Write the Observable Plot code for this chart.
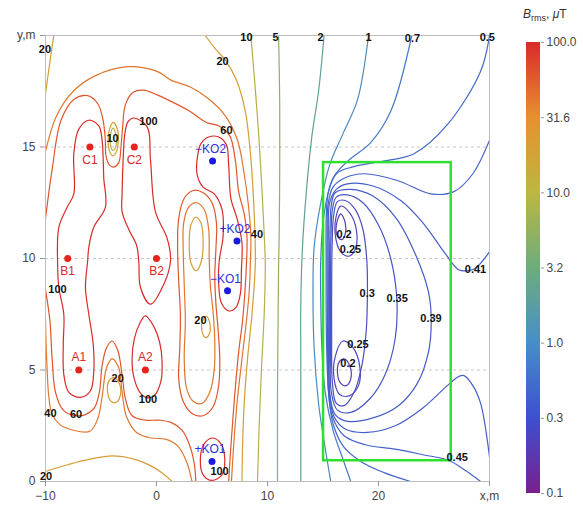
<!DOCTYPE html>
<html><head><meta charset="utf-8">
<script src="https://cdn.jsdelivr.net/npm/d3@7"></script>
<script src="https://cdn.jsdelivr.net/npm/@observablehq/plot@0.6"></script>
<style>
body{margin:0;background:#fff;font-family:"Liberation Sans",Arial,sans-serif}
#wrap{position:relative;width:583px;height:513px;overflow:hidden}
#wrap svg{position:absolute;top:0}
#ttl{position:absolute;left:523px;top:7px;font-size:12px;color:#333;white-space:nowrap}
#ttl sub{font-size:9px}
</style></head><body><div id="wrap"><div id="ttl"><i>B</i><sub>rms</sub>, <i>μ</i>T</div></div>
<script>
// conductors of the line and the compensating loops
const phaseNames = ["A1","A2","B1","B2","C1","C2"];
const phaseX = [-7,-1,-8,0,-6,-2];
const phaseY = [5,5,10,10,15,15];
const phaseLabelAbove = [true,true,false,false,false,false];
const loopNames = ["+KO1","\u2212KO1","+KO2","\u2212KO2"];
const loopX = [5.0,6.4,7.25,5.05];
const loopY = [0.9,8.55,10.78,14.37];
const zoneX = [15.05,26.55];
const zoneY = [0.93,14.3];

const xTicks = [-10,0,10,20,30];
const yTicks = [0,5,10,15,20];
const colorTicks = [0.1,0.316,1,3.162,10,31.62,100];
const rainbow = ["#79208e","#3d4fd1","#468fc8","#6cad7c","#bcb740","#e8902e","#d92a2a"];

// isolines of B_rms, µT (closed loops and open lines)
const iso100_left = [[-6.1,16.2],[-5.2,15.95],[-4.9,15.3],[-4.8,14.4],[-4.75,13.6],[-4.6,12.3],[-5.65,11.4],[-6.1,10.5],[-6.2,9.9],[-6.4,8.7],[-6.1,7.5],[-5.7,6.15],[-5.65,4.95],[-5.95,4.07],[-6.85,3.77],[-7.9,4.0],[-8.35,4.8],[-8.4,6.15],[-8.35,7.5],[-8.8,8.7],[-8.9,9.6],[-8.8,11.4],[-8.05,12.3],[-7.45,12.9],[-7.45,14.7],[-7.0,15.8]];
const iso100_c2 = [[-2.04,16.3],[-0.84,15.9],[-0.54,14.4],[-0.1,12.1],[0.96,10.9],[1.26,9.9],[0.66,8.85],[-0.54,7.95],[-1.44,8.7],[-1.6,9.9],[-1.8,10.6],[-2.5,11.3],[-3.1,12.1],[-3.1,12.9],[-3.0,14.5],[-2.85,15.6],[-2.55,16.15]];
const iso100_a2 = [[-1.0,7.43],[-0.3,7.0],[0.3,6.2],[0.5,5.4],[0.4,4.5],[-0.2,3.85],[-0.8,3.75],[-1.5,4.0],[-2.05,4.7],[-2.2,5.5],[-2.0,6.4],[-1.5,7.1]];
const iso100_ko = [[4.7,15.45],[5.6,15.45],[6.3,15.1],[6.5,14.2],[6.7,12.7],[7.25,11.8],[7.7,10.7],[7.65,9.5],[7.55,8.4],[7.15,7.8],[6.5,7.65],[5.85,8.0],[5.6,8.9],[5.65,9.9],[6.0,11.0],[5.9,12.2],[5.2,12.9],[4.2,13.2],[3.65,13.8],[3.7,14.6],[4.0,15.15]];
const iso100_ko1 = [[5.0,1.95],[5.8,1.7],[6.15,1.0],[5.9,0.3],[5.0,0.05],[4.2,0.3],[3.95,1.0],[4.25,1.65]];
const iso60_left = [[-10,8.6],[-9.6,7.2],[-9.4,5.5],[-9.1,4.0],[-8.4,3.2],[-7.3,2.95],[-6.4,3.0],[-5.6,3.3],[-5.15,4.0],[-4.9,5.2],[-4.5,6.0],[-4.0,6.3],[-3.5,5.9],[-3.1,4.8],[-2.8,3.7],[-2.2,2.95],[-1.0,2.75],[0.2,2.75],[1.3,2.65],[2.3,2.3],[3.0,1.6],[3.4,0.8],[3.55,0]];
const iso60_right = [[6.5,0],[6.65,1.2],[6.85,2.6],[7.1,4.2],[7.4,5.8],[7.75,7.2],[7.95,8.4],[8.1,9.7],[8.15,11.0],[7.9,12.0],[7.4,13.0],[7.1,14.4],[6.6,15.5],[5.6,15.95],[4.5,16.1],[3.0,16.6],[1.5,17.0],[0,17.35],[-1.2,17.55],[-2.1,17.45],[-2.8,16.9],[-3.05,15.9],[-3.2,15.0],[-3.4,14.3],[-3.85,14.1],[-4.25,14.2],[-4.55,14.6],[-4.62,15.4],[-4.85,16.3],[-5.3,16.95],[-6.2,17.3],[-7.4,17.15],[-8.6,16.2],[-9.4,14.0],[-10,11.8]];
const iso60_valley = [[3.3,13.05],[4.2,12.95],[5.0,12.5],[5.4,11.6],[5.35,10.4],[5.25,9.2],[5.35,8.0],[5.55,6.8],[5.7,5.5],[5.6,4.3],[5.1,3.35],[4.2,2.95],[3.2,3.05],[2.4,3.6],[2.0,4.6],[2.1,6.0],[2.15,7.5],[2.0,9.0],[1.9,10.5],[2.0,11.8],[2.5,12.7]];
const iso40_left = [[-10,7.35],[-9.95,6.2],[-9.85,5.0],[-9.7,3.8],[-9.4,3.0],[-8.7,2.55],[-7.5,2.3],[-6.0,2.25],[-5.3,2.8],[-4.9,3.8],[-4.5,5.1],[-4.0,5.5],[-3.4,5.1],[-3.1,4.0],[-2.7,2.9],[-1.8,2.2],[-0.5,1.95],[0.8,1.9],[1.9,1.6],[2.7,0.9],[3.2,0]];
const iso40_right = [[6.75,0],[6.95,1.6],[7.25,3.5],[7.7,5.5],[8.1,7.2],[8.35,8.5],[8.45,9.7],[8.5,11.0],[8.3,12.3],[7.9,13.8],[7.3,15.3],[6.2,16.4],[4.6,17.2],[3.0,17.7],[1.3,18.0],[0,18.4],[-2.6,18.6],[-5.5,18.2],[-7.5,17.5],[-9.0,16.4],[-10,14.8]];
const iso40_valley = [[3.6,12.5],[4.3,12.2],[4.7,11.3],[4.75,10.0],[4.85,8.8],[5.1,7.6],[5.25,6.3],[5.2,5.0],[4.8,4.0],[4.1,3.5],[3.3,3.6],[2.7,4.2],[2.5,5.5],[2.6,7.2],[2.5,8.8],[2.4,10.5],[2.45,11.6],[2.9,12.3]];
const iso20_valley = [[3.55,11.85],[4.0,11.6],[4.2,10.8],[4.05,9.9],[3.6,9.45],[3.1,9.8],[2.95,10.7],[3.1,11.5]];
const iso20_c = [[-3.9,16.1],[-3.5,15.75],[-3.45,15.2],[-3.65,14.75],[-3.95,14.6],[-4.25,14.85],[-4.35,15.4],[-4.2,15.85]];
const iso10_c = [[-3.92,15.85],[-3.65,15.55],[-3.65,15.05],[-3.92,14.85],[-4.15,15.1],[-4.12,15.6]];
const iso20_a = [[-3.85,4.66],[-3.35,4.4],[-3.25,3.9],[-3.6,3.55],[-4.1,3.6],[-4.4,4.0],[-4.3,4.5]];
const iso20_mid = [[4.5,7.4],[4.8,7.1],[4.75,6.6],[4.45,6.45],[4.12,6.7],[4.15,7.2]];
const iso20_tl = [[-9.25,20],[-9.55,19.0],[-10,17.4]];
const iso20_bl = [[-10,0.45],[-8,0.75],[-6,1.0],[-4,1.15],[-2,1.0],[-0.5,0.7],[0.6,0.35],[1.4,0]];
const iso20_right = [[4.4,20],[5.3,19.4],[6.2,18.9],[7.2,18.0],[8.0,16.6],[8.5,14.5],[8.8,12.0],[8.9,9.75],[8.6,7.5],[8.2,5.5],[7.9,3.5],[7.75,1.5],[7.7,0]];
const iso10_right = [[8.5,20],[9.2,15.6],[9.7,11.1],[9.8,9.75],[9.7,7.5],[9.45,5.0],[9.25,2.5],[9.1,0]];
const iso5_right = [[11.0,20],[11.1,17],[11.1,14],[11.05,11],[11.0,9.75],[10.95,7],[10.9,4],[10.9,0]];
const iso2 = [[15.1,20],[14.6,17.5],[14.0,15.5],[13.5,13.0],[13.15,10.5],[13.0,8.0],[13.0,5.5],[13.0,3.0],[13.0,0]];
const iso1 = [[19.1,20],[18.1,17.1],[16.8,15.6],[15.6,14.2],[14.8,12.5],[14.2,10.5],[14.1,8.5],[14.2,6.0],[14.6,3.5],[15.1,1.8],[15.7,0]];
const iso07 = [[23.0,20],[21.1,16.6],[19.3,15.2],[17.3,14.4],[15.9,13.6],[15.1,12.0],[14.8,10.0],[14.8,8.0],[14.9,6.0],[15.2,4.0],[15.9,2.3],[16.8,1.0],[17.5,0]];
const iso05 = [[30,20],[29.2,18.4],[26.2,16],[23.2,14.7],[20.2,14.35],[17.6,14.1],[16.2,13.8],[15.5,13.0],[15.3,12.0],[15.28,10],[15.28,8],[15.33,6],[15.5,4.0],[15.9,2.6],[16.8,1.6],[18.4,0.9],[20.5,0.4],[22.9,0]];
const iso045 = [[30,15.3],[28.5,13.8],[26.8,13.0],[24.7,12.9],[21.7,13.5],[18.7,13.8],[16.9,13.6],[15.9,13.2],[15.45,12.4],[15.38,11],[15.38,9],[15.4,7],[15.42,5.5],[15.5,4.0],[15.85,2.9],[16.9,2.05],[18.8,1.65],[21.5,1.45],[24.0,1.2],[26.3,0.95],[27.8,0.5],[29.2,0]];
const iso041 = [[30,10.3],[28.7,9.55],[28.0,9.45],[27.2,9.5],[25.9,10.3],[24.0,11.6],[22.0,12.6],[19.5,13.25],[17.2,13.35],[16.2,13.1],[15.6,12.5],[15.48,11],[15.48,9],[15.48,7],[15.5,5.5],[15.58,4.0],[16.0,2.9],[17.0,2.35],[19,2.2],[21.5,2.5],[24,3.3],[26.2,4.3],[27.2,4.7],[27.7,4.75],[28.5,4.3],[29.2,3.5],[30,1.1]];
const iso039 = [[16.1,12.95],[17.5,13.1],[19.5,12.8],[21.6,11.8],[23.4,10.1],[24.5,8.5],[24.75,7.3],[24.5,5.8],[23.5,4.4],[21.8,3.4],[19.5,2.85],[17.2,2.7],[16.1,3.0],[15.62,3.9],[15.58,6],[15.58,8.5],[15.62,11],[15.75,12.4]];
const iso035 = [[16.2,12.75],[17.2,12.85],[18.6,12.5],[20.0,11.5],[21.1,10.0],[21.65,8.2],[21.5,6.4],[20.6,4.8],[19.2,3.7],[17.5,3.1],[16.3,3.2],[15.75,4.0],[15.68,6],[15.68,8.5],[15.72,11],[15.85,12.2]];
const iso03 = [[16.3,12.55],[17.0,12.6],[17.9,12.2],[18.6,11.3],[18.95,9.9],[19.0,8.4],[18.9,6.8],[18.5,5.2],[17.8,4.0],[16.9,3.4],[16.2,3.5],[15.85,4.4],[15.78,6.5],[15.78,8.5],[15.82,10.5],[15.95,11.9]];
const iso025_up = [[16.6,12.35],[17.4,12.05],[18.0,11.3],[17.9,10.4],[17.3,10.1],[16.6,10.3],[16.15,10.9],[16.15,11.8]];
const iso02_up = [[16.6,12.0],[17.0,11.6],[17.0,11.1],[16.7,10.85],[16.3,11.0],[16.2,11.5]];
const iso025_lo = [[16.8,6.3],[17.7,6.0],[18.3,5.2],[18.2,4.3],[17.4,3.85],[16.5,3.9],[16.0,4.6],[16.1,5.6]];
const iso02_lo = [[16.9,5.5],[17.4,5.2],[17.5,4.6],[17.1,4.3],[16.6,4.4],[16.3,4.9],[16.5,5.4]];

const isolines = [
  {level:100, closed:true, pts:iso100_left},
  {level:100, closed:true, pts:iso100_c2},
  {level:100, closed:true, pts:iso100_a2},
  {level:100, closed:true, pts:iso100_ko},
  {level:100, closed:true, pts:iso100_ko1},
  {level:60, closed:false, pts:iso60_left},
  {level:60, closed:false, pts:iso60_right},
  {level:60, closed:true, pts:iso60_valley},
  {level:40, closed:false, pts:iso40_left},
  {level:40, closed:false, pts:iso40_right},
  {level:40, closed:true, pts:iso40_valley},
  {level:20, closed:true, pts:iso20_valley},
  {level:20, closed:true, pts:iso20_c},
  {level:10, closed:true, pts:iso10_c},
  {level:20, closed:true, pts:iso20_a},
  {level:20, closed:true, pts:iso20_mid},
  {level:20, closed:false, pts:iso20_tl},
  {level:20, closed:false, pts:iso20_bl},
  {level:20, closed:false, pts:iso20_right},
  {level:10, closed:false, pts:iso10_right},
  {level:5, closed:false, pts:iso5_right},
  {level:2, closed:false, pts:iso2},
  {level:1, closed:false, pts:iso1},
  {level:0.7, closed:false, pts:iso07},
  {level:0.5, closed:false, pts:iso05},
  {level:0.45, closed:false, pts:iso045},
  {level:0.41, closed:false, pts:iso041},
  {level:0.39, closed:true, pts:iso039},
  {level:0.35, closed:true, pts:iso035},
  {level:0.3, closed:true, pts:iso03},
  {level:0.25, closed:true, pts:iso025_up},
  {level:0.2, closed:true, pts:iso02_up},
  {level:0.25, closed:true, pts:iso025_lo},
  {level:0.2, closed:true, pts:iso02_lo}
];

// contour labels placed along the lines
const isoLabels = [
  {level:20,x:-10.05,y:19.36},{level:10,x:-3.96,y:15.39},{level:100,x:-0.72,y:16.13},
  {level:60,x:6.3,y:15.73},{level:20,x:5.95,y:18.84},{level:10,x:8.1,y:19.9},
  {level:5,x:10.72,y:19.9},{level:2,x:14.77,y:19.9},{level:1,x:19.1,y:19.9},
  {level:0.7,x:23.06,y:19.85},{level:0.5,x:29.8,y:19.9},{level:40,x:9.05,y:11.08},
  {level:100,x:-8.92,y:8.6},{level:20,x:3.96,y:7.2},{level:20,x:-3.5,y:4.6},
  {level:40,x:-9.55,y:3.06},{level:60,x:-7.25,y:3.01},{level:100,x:-0.77,y:3.66},
  {level:20,x:-9.95,y:0.21},{level:100,x:5.68,y:0.43},
  {level:0.2,x:16.9,y:11.06},{level:0.25,x:17.48,y:10.39},{level:0.41,x:28.74,y:9.49},
  {level:0.3,x:18.98,y:8.44},{level:0.35,x:21.68,y:8.19},{level:0.39,x:24.73,y:7.3},
  {level:0.25,x:18.15,y:6.15},{level:0.2,x:17.25,y:5.3},{level:0.45,x:27.09,y:1.1}
];

const rows = [];
isolines.forEach((c, i) => c.pts.forEach(([x, y]) => rows.push({id: i, level: c.level, closed: c.closed, x, y})));
const phases = phaseNames.map((name, i) => ({name, x: phaseX[i], y: phaseY[i], above: phaseLabelAbove[i]}));
const loops = loopNames.map((name, i) => ({name, x: loopX[i], y: loopY[i]}));
const interp = d3.interpolateRgbBasis(rainbow);
const font = "'Liberation Sans', Arial, sans-serif";

const chart = Plot.plot({
  width: 583, height: 513,
  marginLeft: 45, marginRight: 94, marginTop: 35, marginBottom: 32,
  style: {fontFamily: font, fontSize: "12px", background: "transparent"},
  x: {domain: [-10, 30]},
  y: {domain: [0, 20]},
  color: {type: "log", domain: [0.1, 100], interpolate: interp},
  marks: [
    Plot.gridY([5, 10, 15], {stroke: "#c8c8c8", strokeOpacity: 1, strokeDasharray: "3,3"}),
    Plot.line(rows.filter(d => !d.closed), {x: "x", y: "y", z: "id", stroke: "level", strokeWidth: 1.2, curve: "catmull-rom", clip: true}),
    Plot.line(rows.filter(d => d.closed), {x: "x", y: "y", z: "id", stroke: "level", strokeWidth: 1.2, curve: "catmull-rom-closed", clip: true}),
    Plot.rect([{}], {x1: zoneX[0], x2: zoneX[1], y1: zoneY[0], y2: zoneY[1], stroke: "#2fe02f", strokeWidth: 2.5, fill: "none"}),
    Plot.frame({stroke: "#bdbdbd"}),
    Plot.dot(phases, {x: "x", y: "y", r: 3.5, fill: "#e8221c"}),
    Plot.text(phases.filter(d => d.above), {x: "x", y: "y", text: "name", dy: -13, fill: "#d8262a", fontSize: 12}),
    Plot.text(phases.filter(d => !d.above), {x: "x", y: "y", text: "name", dy: 13, fill: "#d8262a", fontSize: 12}),
    Plot.dot(loops, {x: "x", y: "y", r: 3.5, fill: "#1a1ae6"}),
    Plot.text(loops, {x: "x", y: "y", text: "name", dy: -12, dx: -2, fill: "#3030d8", fontSize: 12}),
    Plot.text(isoLabels, {x: "x", y: "y", text: d => String(d.level), fill: "#111", fontWeight: "bold", fontSize: 11}),
    Plot.axisX({ticks: xTicks, tickFormat: d => d === 30 ? "x,m" : (d < 0 ? "\u2212" + (-d) : String(d)), tickSize: 5, tickPadding: 5, stroke: "#999", fill: "#444", label: null}),
    Plot.axisY({ticks: yTicks, tickFormat: d => d === 20 ? "y,m" : String(d), tickSize: 5, tickPadding: 5, stroke: "#999", fill: "#444", label: null})
  ]
});
document.getElementById("wrap").appendChild(chart);

// colour bar for the log scale
const bar = Plot.plot({
  width: 68, height: 513,
  marginTop: 42, marginBottom: 20, marginLeft: 6, marginRight: 48,
  style: {fontFamily: font, fontSize: "12px", background: "transparent"},
  x: {domain: [0, 1], axis: null},
  y: {type: "log", domain: [0.1, 100]},
  marks: [
    Plot.rect([{}], {x1: 0, x2: 1, y1: 0.1, y2: 100, fill: "url(#cbgrad)"}),
    Plot.axisY({anchor: "right", ticks: colorTicks, tickFormat: d => d.toFixed(1), tickSize: 3, tickPadding: 3, stroke: "#999", fill: "#444", label: null})
  ]
});
bar.style.left = "520px";
const defs = d3.select(bar).insert("defs", ":first-child");
const grad = defs.append("linearGradient").attr("id", "cbgrad").attr("x1", 0).attr("y1", 1).attr("x2", 0).attr("y2", 0);
rainbow.forEach((c, i) => grad.append("stop").attr("offset", i / (rainbow.length - 1)).attr("stop-color", c));
document.getElementById("wrap").appendChild(bar);
</script></body></html>
